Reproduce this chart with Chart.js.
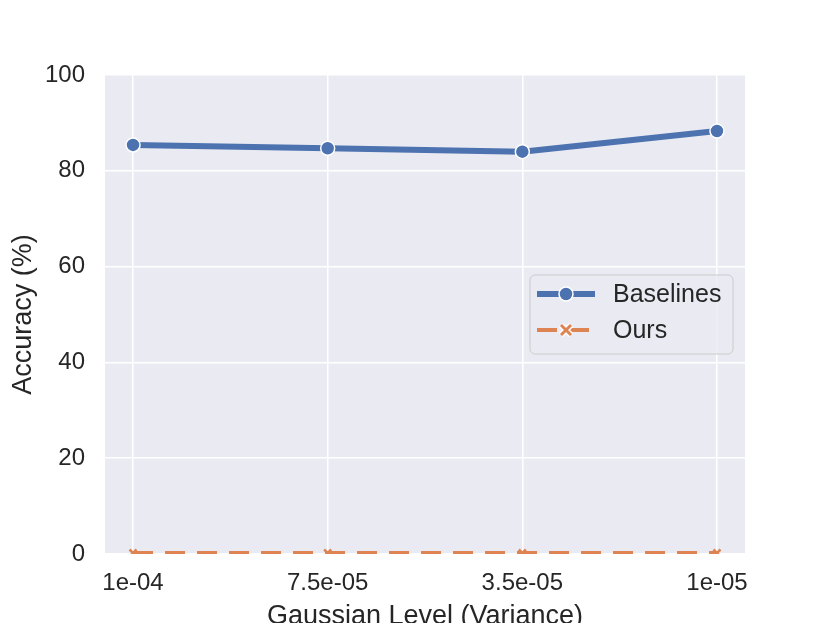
<!DOCTYPE html>
<html>
<head>
<meta charset="utf-8">
<script src="https://cdn.jsdelivr.net/npm/chart.js@4"></script>
<style>
  html, body { margin: 0; padding: 0; background: #fff; overflow: hidden; }
  #wrap { width: 830px; height: 635px; position: relative; }
</style>
</head>
<body>
<div id="wrap"><canvas id="myChart"></canvas></div>
<script>
// dane
const categories = ['1e-04', '7.5e-05', '3.5e-05', '1e-05'];
const baselines = [85.4, 84.7, 84.0, 88.3];
const ours = [0.2, 0.2, 0.2, 0.2];
const yTicks = [0, 20, 40, 60, 80, 100];

const textColor = '#262626';
const fontName = "'Liberation Sans', Arial, sans-serif";

// tlo obszaru wykresu w stylu seaborn
const plotBg = {
  id: 'plotBg',
  beforeDraw(chart) {
    const { ctx, chartArea: a } = chart;
    ctx.save();
    ctx.fillStyle = '#EAEAF2';
    ctx.fillRect(a.left, a.top, a.right - a.left, a.bottom - a.top);
    ctx.restore();
  }
};

// legenda wewnatrz obszaru wykresu
const innerLegend = {
  id: 'innerLegend',
  afterDraw(chart) {
    const ctx = chart.ctx;
    const x = 530, y = 275, w = 203, h = 79;
    ctx.save();
    ctx.beginPath();
    ctx.roundRect(x, y, w, h, 5);
    ctx.fillStyle = 'rgba(234,234,242,0.8)';
    ctx.fill();
    ctx.strokeStyle = '#cccccc';
    ctx.lineWidth = 1;
    ctx.stroke();

    chart.data.datasets.forEach((ds, i) => {
      const ly = 294 + i * 36;
      ctx.beginPath();
      ctx.setLineDash(ds.borderDash || []);
      ctx.strokeStyle = ds.borderColor;
      ctx.lineWidth = ds.borderWidth;
      ctx.moveTo(537, ly);
      ctx.lineTo(595, ly);
      ctx.stroke();
      ctx.setLineDash([]);
      if (ds.pointStyle === 'circle') {
        ctx.beginPath();
        ctx.arc(566, ly, 7, 0, Math.PI * 2);
        ctx.fillStyle = ds.pointBackgroundColor;
        ctx.fill();
        ctx.strokeStyle = '#ffffff';
        ctx.lineWidth = 1.5;
        ctx.stroke();
      } else {
        ctx.strokeStyle = '#ffffff';
        ctx.lineWidth = 6;
        ctx.beginPath();
        ctx.moveTo(561, ly - 5); ctx.lineTo(571, ly + 5);
        ctx.moveTo(571, ly - 5); ctx.lineTo(561, ly + 5);
        ctx.stroke();
        ctx.strokeStyle = ds.borderColor;
        ctx.lineWidth = 3;
        ctx.stroke();
      }
      ctx.fillStyle = textColor;
      ctx.font = '25px ' + fontName;
      ctx.textBaseline = 'middle';
      ctx.textAlign = 'left';
      ctx.fillText(ds.label, 613, ly + 1);
    });
    ctx.restore();
  }
};

const ctx = document.getElementById('myChart').getContext('2d');
const myChart = new Chart(ctx, {
  type: 'line',
  data: {
    datasets: [{
      label: 'Baselines',
      data: baselines.map((v, i) => ({ x: i, y: v })),
      borderColor: '#4C72B0',
      backgroundColor: '#4C72B0',
      pointBackgroundColor: '#4C72B0',
      pointBorderColor: '#ffffff',
      pointBorderWidth: 1.5,
      pointRadius: 7,
      pointStyle: 'circle',
      borderWidth: 6,
      tension: 0
    }, {
      label: 'Ours',
      data: ours.map((v, i) => ({ x: i, y: v })),
      borderColor: '#DD8452',
      backgroundColor: '#DD8452',
      pointBackgroundColor: '#DD8452',
      pointBorderColor: '#DD8452',
      pointBorderWidth: 2.5,
      pointRadius: 5,
      pointStyle: 'crossRot',
      borderWidth: 4,
      borderDash: [20, 12],
      tension: 0
    }]
  },
  options: {
    responsive: true,
    maintainAspectRatio: false,
    animation: false,
    layout: {
      autoPadding: false,
      padding: { top: 75, right: 85, left: 0, bottom: 0 }
    },
    plugins: {
      legend: { display: false },
      tooltip: { enabled: false }
    },
    scales: {
      x: {
        type: 'linear',
        min: -0.144,
        max: 3.144,
        afterFit(scale) { scale.height = 81; },
        afterBuildTicks(scale) {
          scale.ticks = categories.map((c, i) => ({ value: i }));
        },
        border: { display: false },
        grid: { color: '#ffffff', lineWidth: 1.5, drawTicks: false },
        ticks: {
          color: textColor,
          font: { size: 24, family: fontName },
          padding: 15,
          maxRotation: 0,
          callback: v => categories[v]
        },
        title: {
          display: true,
          text: 'Gaussian Level (Variance)',
          color: textColor,
          font: { size: 27, family: fontName },
          padding: { top: 0, bottom: 2 }
        }
      },
      y: {
        min: 0,
        max: 100,
        afterFit(scale) { scale.width = 105; },
        afterBuildTicks(scale) {
          scale.ticks = yTicks.map(v => ({ value: v }));
        },
        border: { display: false },
        grid: { color: '#ffffff', lineWidth: 1.5, drawTicks: false },
        ticks: {
          color: textColor,
          font: { size: 24, family: fontName },
          padding: 20
        },
        title: {
          display: true,
          text: 'Accuracy (%)',
          color: textColor,
          font: { size: 27, family: fontName },
          padding: { top: 7, bottom: 0 }
        }
      }
    }
  },
  plugins: [plotBg, innerLegend]
});
</script>
</body>
</html>
